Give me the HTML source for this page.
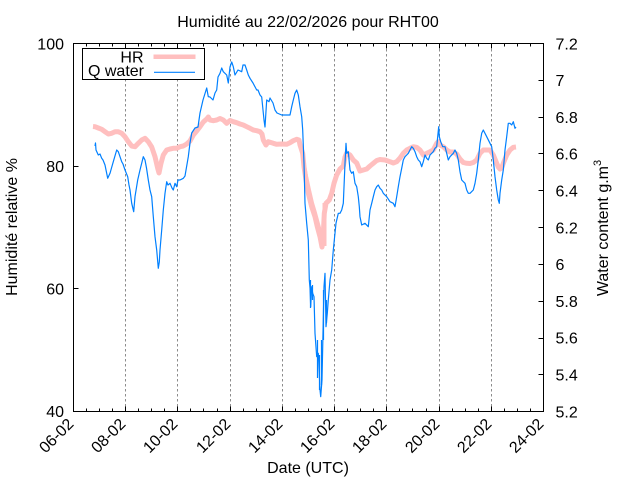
<!DOCTYPE html>
<html>
<head>
<meta charset="utf-8">
<style>
html,body{margin:0;padding:0;background:#fff;}
svg{display:block;}
text{font-family:"Liberation Sans",Arial,sans-serif;fill:#000;}
</style>
</head>
<body>
<svg width="640" height="480" viewBox="0 0 640 480" xmlns="http://www.w3.org/2000/svg">
<rect x="0" y="0" width="640" height="480" fill="#fff"/>

<!-- grid -->
<g stroke="#8c8c8c" stroke-width="1" stroke-dasharray="2.5,2.5">
<line x1="125.5" y1="44" x2="125.5" y2="411"/>
<line x1="177.5" y1="44" x2="177.5" y2="411"/>
<line x1="230.5" y1="44" x2="230.5" y2="411"/>
<line x1="282.5" y1="44" x2="282.5" y2="411"/>
<line x1="334.5" y1="44" x2="334.5" y2="411"/>
<line x1="386.5" y1="44" x2="386.5" y2="411"/>
<line x1="439.5" y1="44" x2="439.5" y2="411"/>
<line x1="491.5" y1="44" x2="491.5" y2="411"/>
</g>

<!-- HR series -->
<g fill="none" stroke="#ffbfbf" stroke-width="5" stroke-linejoin="round" stroke-linecap="butt">
<polyline points="93,126.5 95,126.7 98.3,128 101.7,129.3 105,131.7 108.3,134 111.7,133.3 115,131.7 118.3,131.7 121.7,133.3 125,136.7 128.3,141.7 131.7,146 135,146.7 138.3,143.3 141.7,140 145,138.3 148.3,141.7 151.7,147 155,156.7 157.7,168.3 159,173 161,163.3 163.3,155 166.7,150 170,149 173.3,148.3 176.7,148.3 180,146.7 183.3,146 186.7,144 190,141 193.3,135 196.7,131 200,126.7 203.3,122 206.7,119 208.3,117 210,120 213.3,120.7 216.7,120 220,118.5 223.3,120 226.7,123.3 230,120.5 233.3,121.7 236.7,122.7 240,124 243.3,125 246.7,126.7 250,128.3 253.3,130 256.7,130.7 260,131.7 262,134 263.3,140 266,145 268.3,141.7 273.3,143.3 276.7,144.3 281.7,144 286.7,144.3 290,142.7 293.3,140.7 296.7,139.3 299,140 300,145 302.7,153.3 304,166.7 306,180 308.3,193.3 311.7,206.7 315,216.7 317.3,226.7 320,236.7 322,247 323,240 324.3,213.3 326,203.3 329.3,200 331.7,193.3 334,183.3 336.7,175 340,169 343.3,166 345,157 346.7,153 350,155 353.3,160 356.7,163 360,171 363.3,170 366.7,169 370,166 373.3,163.3 376.7,160.5 380,159.5 385,160 390,161.7 393.3,163 396.7,161.7 400,158 403.3,153.3 406.7,150 410,148.3 413.3,146.7 416.7,147.3 420,150 423.3,155 426.7,153.3 430,151.7 433.3,150 436.7,143.3 438.3,141.7 440,145 443.3,146.7 446.7,150 450,152 453.3,152 456.7,154 460,159 463.3,162.5 466.7,163.3 470,163.5 473.3,162.5 476.7,160 480,153.3 483.3,150 486.7,150 490,150 493.3,155 496.7,163.3 498.3,167 500,169 501.7,168 503.3,163.3 506.7,155 510,150 513.3,147.3 516,147"/>
<polyline points="303,160 306,176 309,190 312,203 315,213 318,224 321,235 323.5,244" stroke-width="4"/>
<line x1="324.5" y1="246" x2="324.5" y2="203" stroke-width="4"/>
</g>

<!-- Q water series -->
<polyline fill="none" stroke="#0080ff" stroke-width="1.2" stroke-linejoin="round" points="95,146 95.5,143 96,150 98.3,155 100,154 101.7,158.3 103,160 105,165 107.7,178.3 110,173.3 111.5,168 113.3,161.7 116.7,150 118.3,151.7 121.7,161.7 123,164 125,170 127.7,176.7 129,185 130,190 131.7,203.3 133.7,211.7 135,196.7 137.7,180 140,170 142,162 143.3,156.7 145,160 146.5,168 148.3,180 150,190 151.7,196.7 153.3,216.7 155,236.7 156.7,250 158.3,268.3 159.3,262 160,250 161.7,230 163.3,210 165,193.3 166.7,181.7 168,185 170,183.3 172,188 173.3,190 175,183.3 176.7,186.7 178,180 180,180 183.3,178.3 185,176 188.3,156.7 190,143 191.7,133 195,128 198,127 200,113 203,100 206.7,88 208.3,96.7 210,97 213,100 215,93 216.7,90 218,77 220,73.3 221.7,68 223.3,71.7 226.7,75 228.3,83 230,67 231.7,62 233.3,66.7 235,75 238,70 241.7,71.7 243,65 245,65 246.7,70 248.3,75 250,78.3 253,83 256.7,90 258,90 260,95 261.7,97 263,110 264,120 265,127 266.7,100 269,101.7 270,98 273,103 275,110 277,113 281.7,115 285,115 290,115 291.7,106.7 293.3,100 295,93.3 296.7,90 298.3,95 300,106.7 301.7,116.7 302.7,130 304,163.3 305,203.3 306.7,223.3 308.3,240 309.3,280 310,288 310.7,306.7 311.7,286.7 312.7,293.3 314,296.7 315,333.3 316.7,356.7 318.3,353.3 319.3,373.3 320,390 320.7,396.7 322,380 322.7,346.7 324,286.7 325,273.3 326,326.7 327.3,313.3 328.3,300 330,280 331.7,270 333.3,250 334.3,240 336,223.3 338.3,213.3 340,213.3 341.7,210 343.3,203.3 344.3,180 345,163.3 346,143.3 346.7,153.3 348.3,151.7 350,170 351.7,173.3 353.3,171.7 355,183.3 356.7,186.7 358.3,196.7 359.3,206.7 360,216.7 361.7,225 365,223.3 368.3,226.7 370,210 371.7,203.3 373.3,196.7 375,190 376.7,186.7 378.3,185 380,188.3 381.7,190 383.3,193.3 386.7,196.7 390,201.7 393.3,203.3 395,206.7 396.7,196.7 398.3,186.7 400,176.7 401.7,168.3 403.3,160 405,156.7 406.7,155 408.3,153.3 410,150 411.7,146.7 413.3,148.3 415,151.7 416.7,156.7 418.3,160 420,161.7 421.7,166.7 423.3,161.7 425,155 426.7,158.3 428.3,160 430,155 431.7,153.3 433.3,151.7 435,148.3 436.7,146.7 437.7,136.7 438.7,126.7 439.3,136.7 440.7,141.7 442.7,146.7 445,146.7 446.7,153.3 448.3,160 450,156.7 453.3,153.3 455,150 456.7,153.3 458.3,160 460,171.7 461.7,180 465,183.3 466.7,190 468.3,193.3 470,193.3 473.3,190 475,183.3 476.7,173.3 478.3,160 480,143.3 481.7,133.3 483.3,130 486.7,136.7 490,143.3 491.7,146.7 493.3,160 495,176.7 496.7,190 498.3,200 499.3,203.3 500,193.3 501.7,180 503.3,170 505,150 506.7,136.7 508.3,123.3 510,123.3 511.7,125 513.3,121.7 515,128.3 516,127"/>
<g stroke="#0080ff" stroke-width="1.2">
<line x1="310.5" y1="280" x2="310.5" y2="308"/>
<line x1="312.5" y1="285" x2="312.5" y2="300"/>
<line x1="317.5" y1="340" x2="317.5" y2="378"/>
<line x1="319.5" y1="355" x2="319.5" y2="390"/>
<line x1="321.5" y1="340" x2="321.5" y2="385"/>
<line x1="323.5" y1="290" x2="323.5" y2="340"/>
<line x1="326.5" y1="300" x2="326.5" y2="323"/>
</g>

<!-- frame -->
<rect x="73.5" y="43.5" width="470" height="368" fill="none" stroke="#000" stroke-width="1"/>

<!-- ticks -->
<g stroke="#000" stroke-width="1">
<!-- x major bottom/top -->
<path d="M73.5,411.5v-5 M125.5,411.5v-5 M177.5,411.5v-5 M230.5,411.5v-5 M282.5,411.5v-5 M334.5,411.5v-5 M386.5,411.5v-5 M439.5,411.5v-5 M491.5,411.5v-5 M543.5,411.5v-5
M73.5,43.5v5 M125.5,43.5v5 M177.5,43.5v5 M230.5,43.5v5 M282.5,43.5v5 M334.5,43.5v5 M386.5,43.5v5 M439.5,43.5v5 M491.5,43.5v5 M543.5,43.5v5"/>
<!-- x minor -->
<path d="M86.5,411.5v-3 M99.5,411.5v-3 M112.5,411.5v-3 M138.5,411.5v-3 M151.5,411.5v-3 M164.5,411.5v-3 M190.5,411.5v-3 M203.5,411.5v-3 M217.5,411.5v-3 M243.5,411.5v-3 M256.5,411.5v-3 M269.5,411.5v-3 M295.5,411.5v-3 M308.5,411.5v-3 M321.5,411.5v-3 M347.5,411.5v-3 M360.5,411.5v-3 M373.5,411.5v-3 M399.5,411.5v-3 M412.5,411.5v-3 M426.5,411.5v-3 M452.5,411.5v-3 M465.5,411.5v-3 M478.5,411.5v-3 M504.5,411.5v-3 M517.5,411.5v-3 M530.5,411.5v-3
M86.5,43.5v3 M99.5,43.5v3 M112.5,43.5v3 M138.5,43.5v3 M151.5,43.5v3 M164.5,43.5v3 M190.5,43.5v3 M203.5,43.5v3 M217.5,43.5v3 M243.5,43.5v3 M256.5,43.5v3 M269.5,43.5v3 M295.5,43.5v3 M308.5,43.5v3 M321.5,43.5v3 M347.5,43.5v3 M360.5,43.5v3 M373.5,43.5v3 M399.5,43.5v3 M412.5,43.5v3 M426.5,43.5v3 M452.5,43.5v3 M465.5,43.5v3 M478.5,43.5v3 M504.5,43.5v3 M517.5,43.5v3 M530.5,43.5v3"/>
<!-- left y -->
<path d="M73.5,43.5h5 M73.5,166.5h5 M73.5,288.5h5 M73.5,411.5h5"/>
<!-- right y2 -->
<path d="M543.5,43.5h-5 M543.5,80.5h-5 M543.5,117.5h-5 M543.5,153.5h-5 M543.5,190.5h-5 M543.5,227.5h-5 M543.5,264.5h-5 M543.5,301.5h-5 M543.5,338.5h-5 M543.5,374.5h-5 M543.5,411.5h-5"/>
</g>

<!-- legend -->
<rect x="82.5" y="48.5" width="122" height="31" fill="#fff" stroke="#000" stroke-width="1"/>
<text x="143.5" y="62.7" font-size="16" text-anchor="end">HR</text>
<line x1="153.5" y1="56.7" x2="195.5" y2="56.7" stroke="#ffbfbf" stroke-width="4.5"/>
<text x="144" y="76" font-size="16" text-anchor="end">Q water</text>
<line x1="154" y1="72.3" x2="195" y2="72.3" stroke="#0080ff" stroke-width="1.2"/>

<!-- title -->
<text x="308" y="27" font-size="16" text-anchor="middle">Humidité au 22/02/2026 pour RHT00</text>

<!-- left tick labels -->
<g font-size="16" text-anchor="end">
<text x="64" y="49.3">100</text>
<text x="64" y="172">80</text>
<text x="64" y="294.5">60</text>
<text x="64" y="417">40</text>
</g>

<!-- right tick labels -->
<g font-size="16" text-anchor="start">
<text x="555.5" y="49.3">7.2</text>
<text x="555.5" y="86.1">7</text>
<text x="555.5" y="122.9">6.8</text>
<text x="555.5" y="159.7">6.6</text>
<text x="555.5" y="196.5">6.4</text>
<text x="555.5" y="233.3">6.2</text>
<text x="555.5" y="270.1">6</text>
<text x="555.5" y="306.9">5.8</text>
<text x="555.5" y="343.7">5.6</text>
<text x="555.5" y="380.5">5.4</text>
<text x="555.5" y="417.3">5.2</text>
</g>

<!-- x tick labels -->
<g font-size="16" text-anchor="end">
<text transform="translate(74.5,425) rotate(-45)">06-02</text>
<text transform="translate(126.5,425) rotate(-45)">08-02</text>
<text transform="translate(178.5,425) rotate(-45)">10-02</text>
<text transform="translate(231.5,425) rotate(-45)">12-02</text>
<text transform="translate(283.5,425) rotate(-45)">14-02</text>
<text transform="translate(335.5,425) rotate(-45)">16-02</text>
<text transform="translate(387.5,425) rotate(-45)">18-02</text>
<text transform="translate(440.5,425) rotate(-45)">20-02</text>
<text transform="translate(492.5,425) rotate(-45)">22-02</text>
<text transform="translate(544.5,425) rotate(-45)">24-02</text>
</g>

<!-- axis labels -->
<text x="308" y="473" font-size="16" text-anchor="middle">Date (UTC)</text>
<text transform="translate(17,227) rotate(-90)" font-size="16" text-anchor="middle">Humidité relative %</text>
<text transform="translate(608,228) rotate(-90)" font-size="16" text-anchor="middle">Water content g.m<tspan font-size="11" dy="-7">3</tspan></text>
</svg>
</body>
</html>
